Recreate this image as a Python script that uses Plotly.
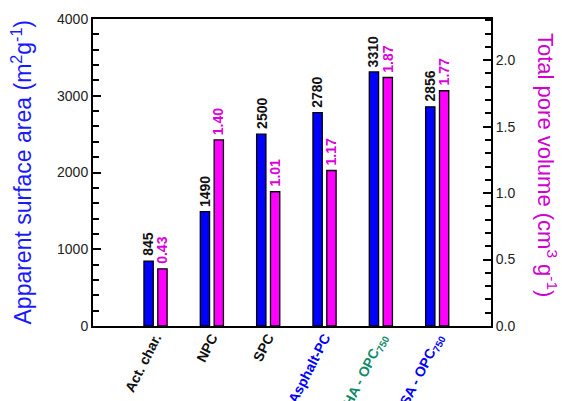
import plotly.graph_objects as go

# Sample names and measured properties
samples = ["Act. char.", "NPC", "SPC", "Asphalt-PC", "HA - OPC<sub>750</sub>", "SA - OPC<sub>750</sub>"]
label_colors = ["#111111", "#111111", "#111111", "#0000ff", "#128a6a", "#0000ff"]
surface_area = [845, 1490, 2500, 2780, 3310, 2856]          # m2/g
pore_volume = [0.43, 1.40, 1.01, 1.17, 1.87, 1.77]           # cm3/g
area_labels = ["845", "1490", "2500", "2780", "3310", "2856"]
volume_labels = ["0.43", "1.40", "1.01", "1.17", "1.87", "1.77"]

BLUE = "#0000ff"
MAGENTA = "#ff00ff"
MAG_TEXT = "#dd00dd"
bar_w = 0.165
off = 0.123

W, H = 562, 401
ML, MR, MT, MB = 93, 71, 19, 75
pw = W - ML - MR

idx = list(range(len(samples)))
x_area = [i - off for i in idx]
x_vol = [i + off for i in idx]

fig = go.Figure()
fig.add_trace(go.Bar(x=x_area, y=surface_area, width=bar_w, marker_color=BLUE,
                     marker_line=dict(color="black", width=1.3), yaxis="y",
                     showlegend=False))
fig.add_trace(go.Bar(x=x_vol, y=pore_volume, width=bar_w, marker_color=MAGENTA,
                     marker_line=dict(color="black", width=1.3), yaxis="y2",
                     showlegend=False))

annotations = []
# value labels above each bar
for xa, v, t in zip(x_area, surface_area, area_labels):
    annotations.append(dict(x=xa, y=v, xref="x", yref="y", text=t, textangle=-90,
                            showarrow=False, xanchor="center", yanchor="bottom",
                            yshift=3, font=dict(family="Arial", size=14, color="#111111", weight="bold")))
for xv, v, t in zip(x_vol, pore_volume, volume_labels):
    annotations.append(dict(x=xv, y=v, xref="x", yref="y2", text=t, textangle=-90,
                            showarrow=False, xanchor="center", yanchor="bottom",
                            yshift=3, font=dict(family="Arial", size=14, color=MAG_TEXT, weight="bold")))

# axis titles (placed by pixel column, converted to paper fraction)
annotations.append(dict(x=(21 - ML) / pw, y=0.5, xref="paper", yref="paper",
                        xanchor="center", yanchor="middle",
                        text="Apparent surface area (m<sup>2</sup>g<sup>-1</sup>)", textangle=-90,
                        showarrow=False, font=dict(family="Arial", size=23, color="#1a1aff")))
annotations.append(dict(x=(547 - ML) / pw, y=(H - MB - 165) / (H - MT - MB), xref="paper", yref="paper",
                        xanchor="center", yanchor="middle",
                        text="Total pore volume (cm<sup>3</sup> g<sup>-1</sup>)", textangle=90,
                        showarrow=False, font=dict(family="Arial", size=22, color="#d000d0")))

tick_text = [f'<span style="color:{c}">{s}</span>' for s, c in zip(samples, label_colors)]

fig.update_layout(
    width=W, height=H,
    margin=dict(l=ML, r=MR, t=MT, b=MB, pad=0),
    paper_bgcolor="white", plot_bgcolor="white",
    font=dict(family="Arial", size=14, color="#222222"),
    barmode="overlay",
    annotations=annotations,
    xaxis=dict(range=[-1.11, 5.955], tickmode="array", tickvals=idx, ticktext=tick_text,
               tickangle=-63, ticks="", showline=True, linecolor="black", linewidth=2,
               mirror=True, showgrid=False, zeroline=False, automargin=False,
               ticklabelstandoff=-4,
               tickfont=dict(family="Arial", size=14, weight="bold")),
    yaxis=dict(range=[0, 4000], tickmode="linear", tick0=0, dtick=1000,
               ticks="inside", ticklen=8, tickwidth=2, tickcolor="black",
               minor=dict(dtick=200, ticks="inside", ticklen=6, tickwidth=2, tickcolor="black"),
               showline=True, linecolor="black", linewidth=2, showgrid=False, zeroline=False,
               automargin=False, tickfont=dict(family="Arial", size=14, color="#222222")),
    yaxis2=dict(range=[0, 2.31], overlaying="y", side="right", tickmode="linear", tick0=0,
                dtick=0.5, tickformat=".1f",
                ticks="inside", ticklen=8, tickwidth=2, tickcolor="black",
                minor=dict(dtick=0.1, ticks="inside", ticklen=6, tickwidth=2, tickcolor="black"),
                showline=True, linecolor="black", linewidth=2, showgrid=False, zeroline=False,
                automargin=False, tickfont=dict(family="Arial", size=14, color="#222222")),
)

fig.write_html("out.html")
